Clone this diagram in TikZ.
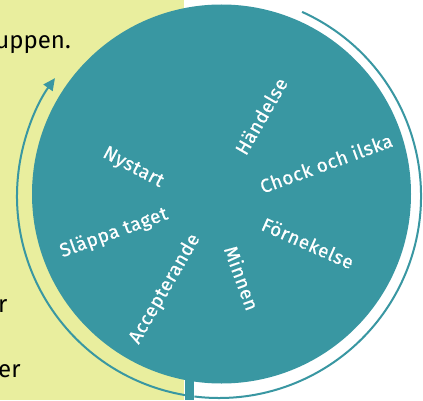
\documentclass[tikz,border=0pt]{standalone}
\usepackage{fontspec}
\setmainfont{Fira Sans}
\newfontfamily\labfont[LetterSpace=3,FakeBold=0.7]{Fira Sans}
\usetikzlibrary{arrows.meta,calc}
\definecolor{teal}{RGB}{57,151,162}
\definecolor{paleyel}{RGB}{233,238,158}
\tikzset{
  lab/.style={text=white, font=\labfont\fontsize{19}{22}\selectfont, inner sep=0pt},
  side/.style={text=black, font=\fontsize{24}{27}\selectfont, inner sep=0pt},
  cyc/.style={draw=teal, line width=2pt}
}
\begin{document}
\begin{tikzpicture}[x=1pt,y=1pt]
\useasboundingbox (0,0) rectangle (423,400);
\fill[white] (0,0) rectangle (423,400);
\fill[paleyel] (0,0) rectangle (184,400);
% side texts (cropped)
\node[side, anchor=base east] (t1) at (71,352) {ruppen.};
\node[side, anchor=base west] (t2) at (-2,88) {r};
\node[side, anchor=base west] (t3) at (-2,23) {er};
\node[side, anchor=base west] (t4) at (-2,-14) {en};
% stem
\fill[teal] (185,0) rectangle (194,30);
% circle
\node[circle, fill=teal, minimum size=379pt, inner sep=0pt] (c) at (221.5,206) {};
% cycle arcs
\coordinate (o) at (219,204);
\draw[cyc] ($(o)+(65.7:202)$) arc[start angle=65.7, end angle=-97, radius=202];
\draw[cyc, -{Triangle[length=12pt,width=11pt]}] ($(o)+(260.3:202)$) arc[start angle=260.3, end angle=144.3, radius=202];
% labels
\node[lab, rotate=60] (l1) at (261,284) {Händelse};
\node[lab, rotate=20] (l2) at (326,237) {Chock och ilska};
\node[lab, rotate=-24] (l3) at (308,157) {Förnekelse};
\node[lab, rotate=-70] (l4) at (242,122) {Minnen};
\node[lab, rotate=60] (l5) at (165,111) {Accepterande};
\node[lab, rotate=20] (l6) at (114,167) {Släppa taget};
\node[lab, rotate=-28] (l7) at (133,232) {Nystart};
\end{tikzpicture}
\end{document}
